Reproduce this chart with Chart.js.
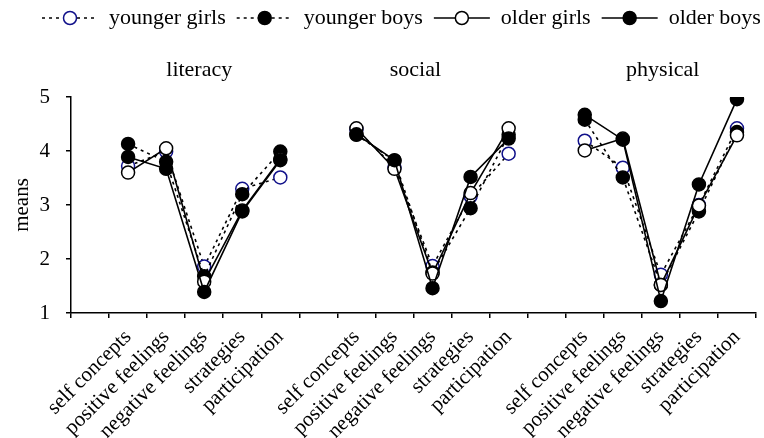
<!DOCTYPE html>
<html>
<head>
<meta charset="utf-8">
<script src="https://cdn.jsdelivr.net/npm/chart.js@4"></script>
<style>
  body { margin: 0; background: #fff; }
  canvas { display: block; }
</style>
</head>
<body>
<canvas id="meansChart" width="764" height="438"></canvas>
<script>
// domains (panels) and subscales
const domains = ['literacy', 'social', 'physical'];
const subscales = ['self concepts', 'positive feelings', 'negative feelings', 'strategies', 'participation'];

// means per group, literacy / social / physical, 5 subscales each
const youngerGirls = [3.72, 3.99, 1.86, 3.30, 3.51,  4.40, 3.70, 1.87, 3.16, 3.95,  4.19, 3.69, 1.71, 3.00, 4.42];
const youngerBoys  = [4.13, 3.80, 1.68, 3.20, 3.99,  4.30, 3.82, 1.75, 2.94, 4.30,  4.58, 3.51, 1.52, 2.88, 4.35];
const olderGirls   = [3.60, 4.05, 1.58, 2.90, 3.85,  4.42, 3.67, 1.73, 3.22, 4.42,  4.01, 4.23, 1.52, 2.99, 4.29];
const olderBoys    = [3.89, 3.67, 1.39, 2.88, 3.83,  4.31, 3.83, 1.46, 3.52, 4.23,  4.67, 4.21, 1.22, 3.38, 4.96];

const yTicks = [1, 2, 3, 4, 5];

const SERIF = "'Liberation Serif', 'Times New Roman', serif";
const NAVY = '#10108a';

// one empty slot in front of every panel
function withGaps(arr) {
  const out = [];
  domains.forEach((d, i) => {
    out.push(null);
    for (let k = 0; k < subscales.length; k++) out.push(arr[i * subscales.length + k]);
  });
  return out;
}
const labels = withGaps(domains.flatMap(() => subscales)).map(l => l === null ? '' : l);

const series = [
  { label: 'younger girls', data: youngerGirls, fill: '#fff', edge: NAVY, dash: [3, 4], order: 4 },
  { label: 'younger boys', data: youngerBoys, fill: '#000', edge: '#000', dash: [3, 4], order: 3 },
  { label: 'older girls', data: olderGirls, fill: '#fff', edge: '#000', dash: [], order: 2 },
  { label: 'older boys', data: olderBoys, fill: '#000', edge: '#000', dash: [], order: 1 }
];

const datasets = series.map(s => ({
  label: s.label,
  data: withGaps(s.data),
  order: s.order,
  borderColor: '#000',
  borderWidth: 1.6,
  borderDash: s.dash,
  spanGaps: false,
  tension: 0,
  pointRadius: 6.5,
  pointBorderWidth: 1.5,
  pointBackgroundColor: s.fill,
  pointBorderColor: s.edge
}));

// legend across the top
const legendDraw = {
  id: 'legendDraw',
  afterDraw(chart) {
    const ctx = chart.ctx;
    ctx.save();
    ctx.font = '22px ' + SERIF;
    ctx.textBaseline = 'middle';
    let x = 42;
    const y = 18;
    series.forEach(s => {
      ctx.strokeStyle = '#000';
      ctx.lineWidth = 1.6;
      ctx.setLineDash(s.dash);
      ctx.beginPath();
      ctx.moveTo(x, y);
      ctx.lineTo(x + 56, y);
      ctx.stroke();
      ctx.setLineDash([]);
      ctx.beginPath();
      ctx.arc(x + 28, y, 6.5, 0, Math.PI * 2);
      ctx.fillStyle = s.fill;
      ctx.fill();
      ctx.lineWidth = 1.5;
      ctx.strokeStyle = s.edge;
      ctx.stroke();
      ctx.fillStyle = '#000';
      ctx.textAlign = 'left';
      ctx.fillText(s.label, x + 67, y);
      x += 67 + ctx.measureText(s.label).width + 11;
    });
    ctx.restore();
  }
};

// panel titles above each group
const panelTitles = {
  id: 'panelTitles',
  afterDraw(chart) {
    const ctx = chart.ctx;
    const xs = chart.scales.x;
    const at = [2.87, 8.55, 15.05];
    ctx.save();
    ctx.font = '22px ' + SERIF;
    ctx.fillStyle = '#000';
    ctx.textAlign = 'center';
    ctx.textBaseline = 'middle';
    domains.forEach((d, i) => {
      ctx.fillText(d, xs.getPixelForValue(at[i]), 70);
    });
    ctx.restore();
  }
};

new Chart(document.getElementById('meansChart').getContext('2d'), {
  type: 'line',
  data: { labels: labels, datasets: datasets },
  plugins: [legendDraw, panelTitles],
  options: {
    responsive: false,
    animation: false,
    layout: { padding: { top: 97, right: 7, left: 0, bottom: 0 } },
    plugins: {
      legend: { display: false },
      tooltip: { enabled: false }
    },
    scales: {
      x: {
        offset: true,
        grid: { offset: true, drawOnChartArea: false, drawTicks: true, tickLength: 5, color: '#000', lineWidth: 1.5 },
        border: { color: '#000', width: 1.5 },
        ticks: {
          autoSkip: false, maxRotation: 45, minRotation: 45, padding: 7,
          color: '#000', font: { family: SERIF, size: 21 }
        },
        afterFit: s => { s.height = 125; }
      },
      y: {
        min: 1, max: 5,
        afterBuildTicks: s => { s.ticks = yTicks.map(v => ({ value: v })); },
        grid: { drawOnChartArea: false, drawTicks: true, tickLength: 5, color: '#000', lineWidth: 1.5 },
        border: { color: '#000', width: 1.5 },
        ticks: { padding: 16, color: '#000', font: { family: SERIF, size: 21 } },
        title: { display: true, text: 'means', color: '#000', font: { family: SERIF, size: 21 }, padding: { top: 10, bottom: 0 } },
        afterFit: s => { s.width = 71; }
      }
    }
  }
});
</script>
</body>
</html>
